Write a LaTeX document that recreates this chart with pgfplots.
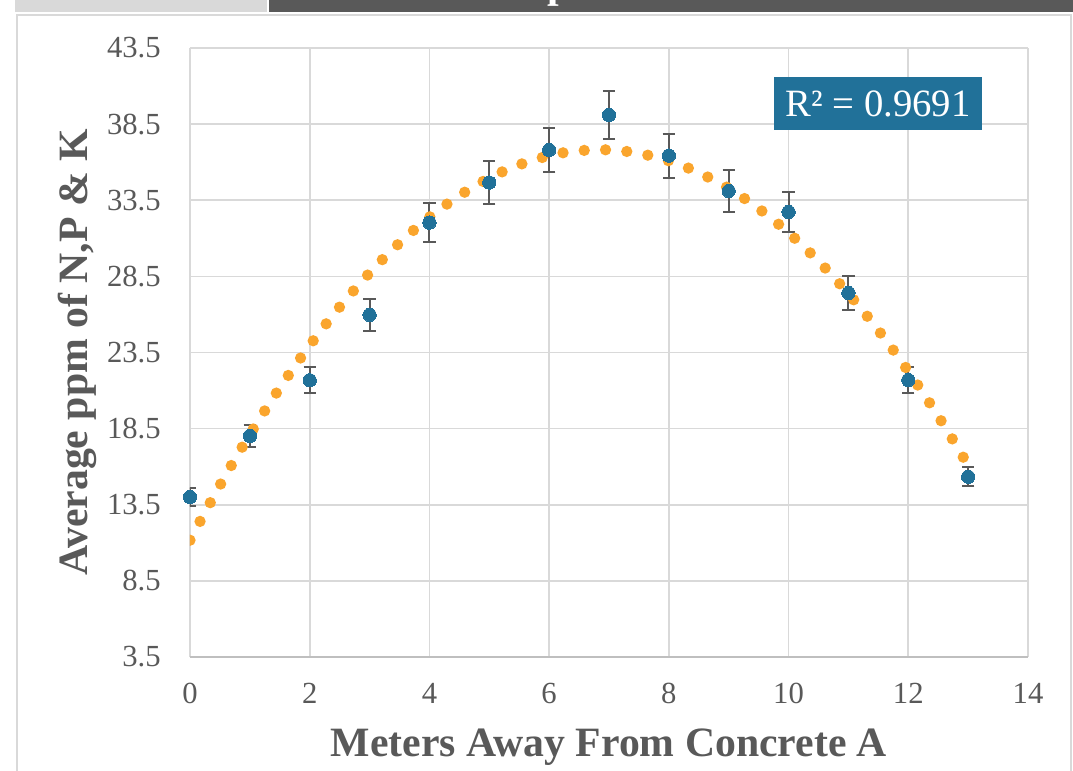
\documentclass[border=0pt]{standalone}
\usepackage{fontspec}
\setmainfont{Liberation Serif}
\usepackage{pgfplots}
\usepackage{pgfplotstable}
\pgfplotsset{compat=1.18}

\definecolor{gridc}{HTML}{D9D9D9}
\definecolor{axisc}{HTML}{BFBFBF}
\definecolor{textc}{HTML}{595959}
\definecolor{bluem}{RGB}{33,113,153}
\definecolor{oranget}{RGB}{250,165,45}

% averages with error bars
\pgfplotstableread{
x y err
0 14.01 0.56
1 18.02 0.71
2 21.68 0.85
3 25.97 1.04
4 32.03 1.27
5 34.66 1.39
6 36.80 1.45
7 39.10 1.57
8 36.43 1.45
9 34.11 1.36
10 32.73 1.31
11 27.41 1.10
12 21.69 0.87
13 15.34 0.62
}\measured

% polynomial trendline
\pgfplotstableread{
x y
0 11.17
0.25 13.01
0.5 14.78
0.75 16.49
1 18.12
1.25 19.68
1.5 21.18
1.75 22.61
2 23.97
2.25 25.26
2.5 26.49
2.75 27.64
3 28.73
3.25 29.75
3.5 30.70
3.75 31.58
4 32.39
4.25 33.13
4.5 33.81
4.75 34.42
5 34.96
5.25 35.43
5.5 35.83
5.75 36.16
6 36.43
6.25 36.63
6.5 36.75
6.75 36.82
7 36.81
7.25 36.73
7.5 36.59
7.75 36.37
8 36.09
8.25 35.74
8.5 35.32
8.75 34.83
9 34.28
9.25 33.65
9.5 32.96
9.75 32.20
10 31.37
10.25 30.47
10.5 29.51
10.75 28.47
11 27.37
11.25 26.20
11.5 24.96
11.75 23.65
12 22.27
12.25 20.83
12.5 19.32
12.75 17.73
13 16.08
}\trend

\begin{document}
\begin{tikzpicture}
% page = reference's 1073x770 px at 0.75pt per px, plot box corner at (0,0)
\path[use as bounding box, fill=white] (-142.5pt,-84.75pt) rectangle (662.25pt,492.75pt);

\begin{axis}[
    at={(0,0)}, anchor=south west,
    scale only axis,
    width=628.5pt, height=456.75pt,
    xmin=0, xmax=14, ymin=3.5, ymax=43.5,
    xtick={0,2,...,14},
    ytick={3.5,8.5,13.5,18.5,23.5,28.5,33.5,38.5,43.5},
    /pgf/number format/assume math mode=true,
    grid=major,
    major grid style={gridc, line width=1.25pt},
    axis line style={draw=none},
    major tick length=0pt,
    tick label style={font=\fontsize{23}{27}\selectfont, text=textc},
    xticklabel style={anchor=north, inner sep=0pt, yshift=-19.5pt},
    yticklabel style={anchor=east, inner sep=0pt, xshift=-21.75pt,
        /pgf/number format/.cd, fixed, fixed zerofill, precision=1},
]
\draw[axisc, line width=1.5pt] (rel axis cs:0,0) -- (rel axis cs:1,0);

% error bars first, markers on top
\addplot[textc, only marks, mark=none,
    error bars/.cd, y dir=both, y explicit,
    error bar style={textc, line width=1.5pt},
    error mark options={textc, rotate=90, line width=1.5pt, mark size=4.6pt}]
  table[x=x, y=y, y error=err] {\measured};
\addplot[bluem, only marks, mark=*, mark size=5pt,
    mark options={fill=bluem, draw=bluem, line width=0pt}]
  table[x=x, y=y] {\measured};

\addplot[no markers, oranget, line width=8.5pt, line cap=round,
    dash pattern=on 0pt off 16pt]
  table[x=x, y=y] {\trend};
\end{axis}

\begin{scope}[x=0.75pt,y=-0.75pt,shift={(-142.5pt,492.75pt)}]
  % frame and the strip above it
  \draw[gridc, line width=1.5pt] (17,780) -- (17,15) -- (1071,15) -- (1071,780);
  \fill[gridc] (15,0) rectangle (267,12);
  \fill[textc] (269,0) rectangle (1073,12);
  \node[anchor=base west, inner sep=0pt, text=white,
        font=\bfseries\fontsize{31.3}{36}\selectfont] at (547,-2) {p};

  \node[rotate=90, anchor=base, text=textc,
        font=\bfseries\fontsize{31.3}{36}\selectfont] at (88,352.5)
        {Average ppm of N,P \& K};
  \node[anchor=base, text=textc,
        font=\bfseries\fontsize{31.3}{36}\selectfont] at (609,756)
        {Meters Away From Concrete A};

  \node[fill=bluem, text=white, inner sep=0pt,
        minimum width=156pt, minimum height=39.75pt,
        font=\fontsize{29}{34}\selectfont] at (878,103.5) {R² = 0.9691};
\end{scope}
\end{tikzpicture}
\end{document}
